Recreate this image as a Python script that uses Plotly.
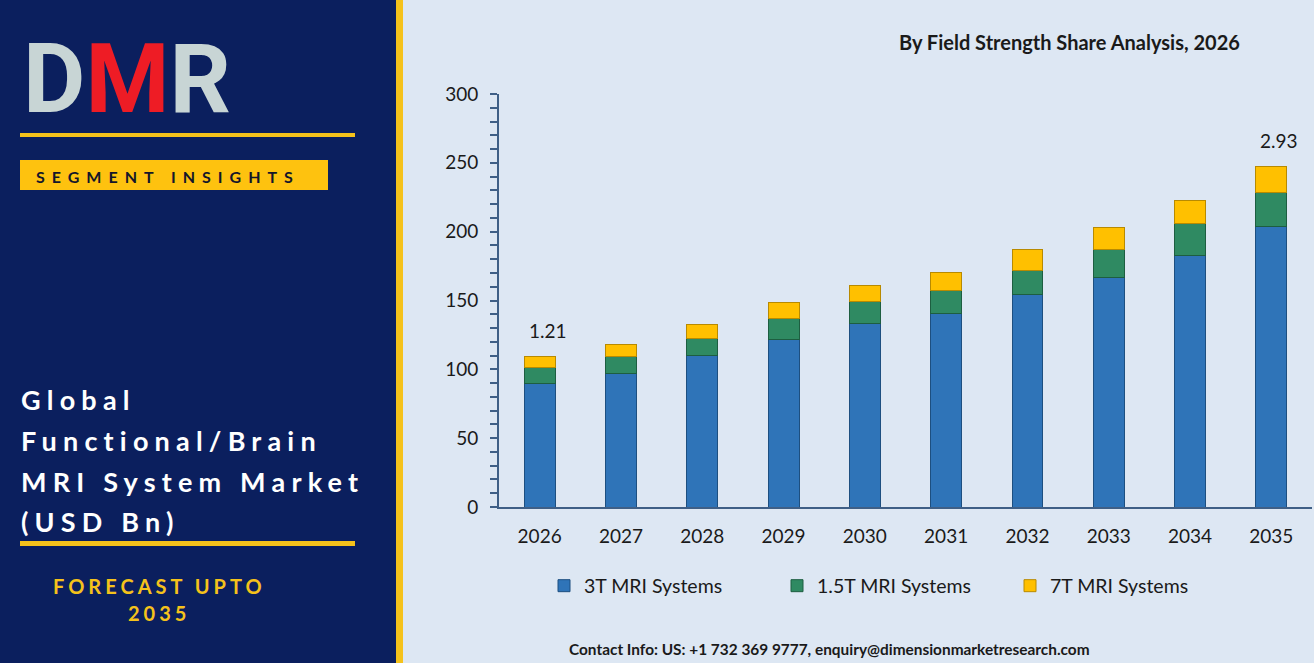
import plotly.graph_objects as go

# ---------------- data ----------------
years = ["2026", "2027", "2028", "2029", "2030", "2031", "2032", "2033", "2034", "2035"]
mri_3t = [90.0, 97.0, 110.4, 122.0, 133.0, 140.2, 154.0, 166.8, 183.0, 203.6]
mri_15t = [11.0, 12.6, 12.1, 15.0, 16.6, 17.4, 17.7, 20.4, 23.1, 24.7]
mri_7t = [8.2, 8.7, 10.4, 11.4, 11.4, 13.1, 15.5, 16.0, 16.9, 19.4]
series_names = ["3T MRI Systems", "1.5T MRI Systems", "7T MRI Systems"]
top_labels = ["1.21", "", "", "", "", "", "", "", "", "2.93"]
y_ticks = [0, 50, 100, 150, 200, 250, 300]

W, H = 1314, 668
NAVY = "#0b1f5e"
LIGHT = "#dde7f3"
GOLD = "#f5c21b"
AXIS = "#3f5f86"
TXT = "#1a1a1a"
FONT = "Lato"


def px(x):
    return x / W


def py(y):
    return 1 - y / H


fig = go.Figure()
colors = ["#2f74b8", "#2f8a62", "#ffc000"]
lines = ["#1d4f80", "#1d5e40", "#b88a00"]
for name, vals, c, lc in zip(series_names, [mri_3t, mri_15t, mri_7t], colors, lines):
    fig.add_trace(go.Bar(
        x=years, y=vals, name=name,
        marker=dict(color=c, line=dict(color=lc, width=1)),
        hoverinfo="x+y+name",
    ))

totals = [a + b + c for a, b, c in zip(mri_3t, mri_15t, mri_7t)]

annotations = []
for i, (tot, lab) in enumerate(zip(totals, top_labels)):
    if lab:
        annotations.append(dict(
            x=i, y=tot, xref="x", yref="y", text=lab, showarrow=False,
            yanchor="middle", yshift=26, xshift=8,
            font=dict(family=FONT, size=19, color=TXT)))

# chart title & footer
annotations.append(dict(x=px(1069), y=py(42), xref="paper", yref="paper",
                        text="<b>By Field Strength Share Analysis, 2026</b>", showarrow=False,
                        xanchor="center", yanchor="middle",
                        font=dict(family=FONT, size=20, color=TXT)))
annotations.append(dict(x=px(829), y=py(649), xref="paper", yref="paper",
                        text="<b>Contact Info: US: +1 732 369 9777, enquiry@dimensionmarketresearch.com</b>",
                        showarrow=False, xanchor="center", yanchor="middle",
                        font=dict(family=FONT, size=15.4, color=TXT)))

# logo
annotations.append(dict(x=px(127), y=py(79), xref="paper", yref="paper",
                        text=("<b><span style='color:#c8d5d5'>D</span>"
                              "<span style='color:#ee1c25'>M</span>"
                              "<span style='color:#c8d5d5'>R</span></b>"),
                        showarrow=False, xanchor="center", yanchor="middle",
                        font=dict(family="Roboto", size=96, color="#c8d5d5")))

annotations.append(dict(x=px(34), y=py(176), xref="paper", yref="paper",
                        text="<b>SEGMENT INSIGHTS</b>", showarrow=False, align="left",
                        xanchor="left", yanchor="middle",
                        font=dict(family=FONT, size=16, color="#14162a")))

for line, cy in [("Global", 399), ("Functional/Brain", 440), ("MRI System Market", 481), ("(USD Bn)", 521)]:
    annotations.append(dict(x=px(19), y=py(cy), xref="paper", yref="paper",
                            text=f"<b>{line}</b>", showarrow=False, align="left",
                            xanchor="left", yanchor="middle",
                            font=dict(family=FONT, size=27, color="white")))

for line, cy in [("FORECAST UPTO", 586), ("2035", 613)]:
    annotations.append(dict(x=px(159), y=py(cy), xref="paper", yref="paper",
                            text=f"<b>{line}</b>", showarrow=False, align="center",
                            xanchor="center", yanchor="middle",
                            font=dict(family=FONT, size=20, color=GOLD)))

shapes = [
    dict(type="rect", xref="paper", yref="paper", x0=0, x1=1, y0=py(668), y1=py(663),
         fillcolor="white", line_width=0, layer="below"),
    dict(type="rect", xref="paper", yref="paper", x0=0, x1=px(396), y0=py(663), y1=1,
         fillcolor=NAVY, line_width=0, layer="below"),
    dict(type="rect", xref="paper", yref="paper", x0=px(396), x1=px(403), y0=py(663), y1=1,
         fillcolor=GOLD, line_width=0, layer="below"),
    dict(type="rect", xref="paper", yref="paper", x0=px(20), x1=px(355), y0=py(137), y1=py(133),
         fillcolor=GOLD, line_width=0, layer="below"),
    dict(type="rect", xref="paper", yref="paper", x0=px(20), x1=px(328), y0=py(190), y1=py(160),
         fillcolor="#fec20f", line_width=0, layer="below"),
    dict(type="rect", xref="paper", yref="paper", x0=px(20), x1=px(355), y0=py(546), y1=py(541),
         fillcolor=GOLD, line_width=0, layer="below"),
]

fig.update_layout(
    width=W, height=H,
    margin=dict(l=0, r=0, t=0, b=0, pad=0, autoexpand=False),
    paper_bgcolor=LIGHT, plot_bgcolor=LIGHT,
    barmode="stack", bargap=0.62,
    showlegend=True,
    legend=dict(orientation="h", x=px(544), y=py(586), xanchor="left", yanchor="middle",
                entrywidth=188, entrywidthmode="pixels", itemwidth=30,
                bgcolor="rgba(0,0,0,0)", traceorder="normal",
                font=dict(family=FONT, size=19.5, color=TXT)),
    font=dict(family=FONT, color=TXT),
    xaxis=dict(domain=[px(499), px(1312)], type="category", showline=True, linecolor=AXIS,
               linewidth=2, ticks="", showgrid=False, zeroline=False, automargin=False,
               tickfont=dict(family=FONT, size=19, color=TXT), ticklabelstandoff=11,
               fixedrange=True),
    yaxis=dict(domain=[py(507), py(94)], range=[0, 300], tickvals=y_ticks, showline=True,
               linecolor=AXIS, linewidth=2, ticks="outside", ticklen=7, tickwidth=2,
               tickcolor=AXIS, showgrid=False, zeroline=False, automargin=False,
               minor=dict(dtick=10, ticks="outside", ticklen=7, tickwidth=2, tickcolor=AXIS,
                          showgrid=False),
               tickfont=dict(family=FONT, size=19, color=TXT), ticklabelstandoff=8,
               fixedrange=True),
    annotations=annotations,
    shapes=shapes,
)

post = """
var spacing = function(){
  document.querySelectorAll('text.annotation-text').forEach(function(t){
    var s = t.textContent;
    if (s.indexOf('SEGMENT') === 0) t.style.letterSpacing = '7px';
    else if (s === 'Global' || s === 'Functional/Brain' || s === 'MRI System Market' || s === '(USD Bn)') t.style.letterSpacing = '6.2px';
    else if (s === 'FORECAST UPTO' || s === '2035') t.style.letterSpacing = '4px';
  });
};
spacing();
var gdiv = document.getElementById('{plot_id}');
if (gdiv && gdiv.on) { gdiv.on('plotly_afterplot', spacing); }
"""

fig.write_html("out.html", post_script=post, config={"displayModeBar": False})
